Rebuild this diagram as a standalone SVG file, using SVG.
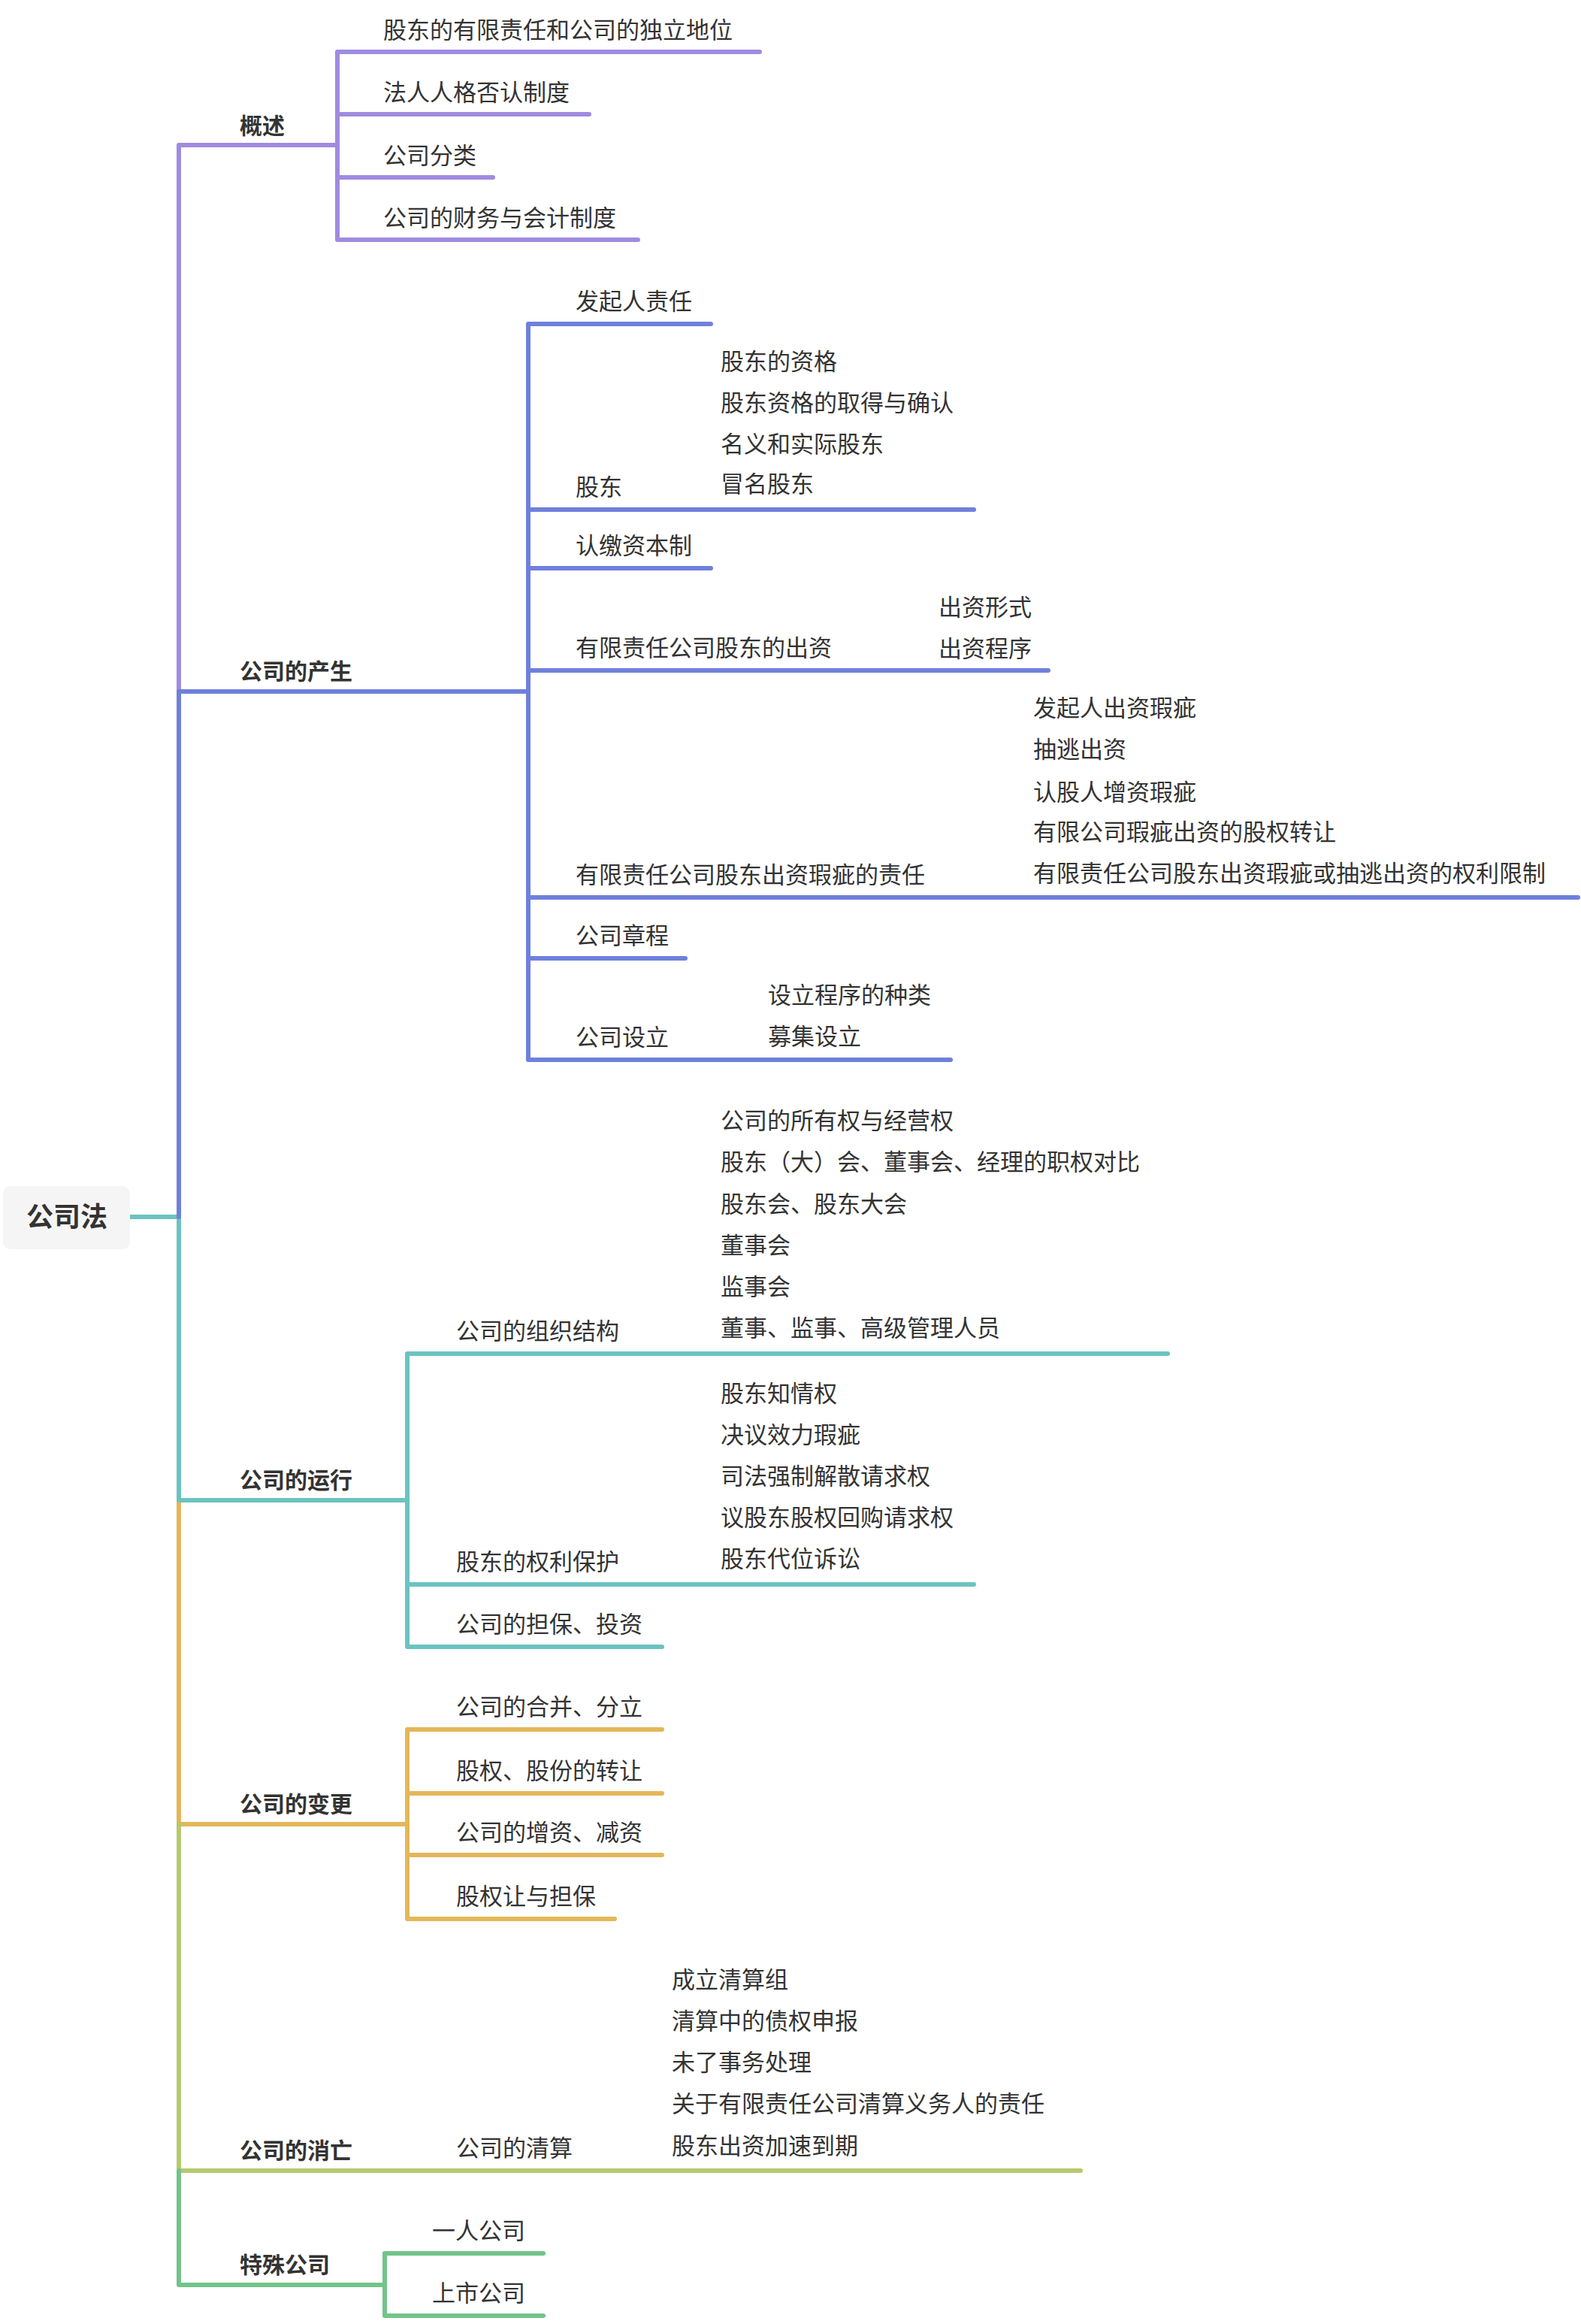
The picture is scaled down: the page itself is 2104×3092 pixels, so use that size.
<svg xmlns="http://www.w3.org/2000/svg" width="2104" height="3092" viewBox="0 0 2104 3092">
<style>
text{font-family:"Noto Sans CJK SC","Noto Sans",sans-serif;fill:#333;font-size:31px}
.b{font-weight:bold;font-size:30px}
.r{font-weight:bold;font-size:36px;text-anchor:middle}
path{fill:none;stroke-width:6;stroke-linecap:round;stroke-linejoin:round}
.p{stroke:#a08be0}.u{stroke:#6f80db}.t{stroke:#6cc3c0}.y{stroke:#e3b75a}.o{stroke:#b5c96f}.g{stroke:#72c48a}
</style>
<g id="connectors">
<path class="t" d="M173 1619H238V1996"/>
<path class="p" d="M449 193H238V920"/>
<path class="u" d="M703 920H238V1619"/>
<path class="y" d="M542 2427H238V1996"/>
<path class="o" d="M1438 2888H238V2427"/>
<path class="g" d="M512 3040H238V2888"/>
<path class="t" d="M542 1996H238"/>
<path class="p" d="M1011 69H449V319H849M449 152H784M449 236H656"/>
<path class="u" d="M946 431H703V1410H1265M703 678H1296M703 756H946M703 892H1395M703 1194H2100M703 1275H912"/>
<path class="t" d="M1554 1801H542V2191H881M542 2108H1296"/>
<path class="y" d="M881 2301H542V2553H818M542 2386H881M542 2468H881"/>
<path class="g" d="M723 2998H512V3081H723"/>
</g>
<g id="root"><rect x="4" y="1578" width="169" height="84" rx="10" fill="#f5f5f5"/><text class="r" x="89" y="1632">公司法</text></g>
<g id="n1"><text class="b" x="319" y="178">概述</text>
<text x="510" y="51">股东的有限责任和公司的独立地位</text>
<text x="510" y="134">法人人格否认制度</text>
<text x="510" y="218">公司分类</text>
<text x="510" y="301">公司的财务与会计制度</text></g>
<g id="n2"><text class="b" x="319" y="904">公司的产生</text>
<text x="766" y="412">发起人责任</text>
<text x="766" y="659">股东</text>
<text x="959" y="492">股东的资格</text>
<text x="959" y="547">股东资格的取得与确认</text>
<text x="959" y="602">名义和实际股东</text>
<text x="959" y="655">冒名股东</text>
<text x="766" y="737">认缴资本制</text>
<text x="766" y="873">有限责任公司股东的出资</text>
<text x="1249" y="819">出资形式</text>
<text x="1249" y="874">出资程序</text>
<text x="766" y="1175">有限责任公司股东出资瑕疵的责任</text>
<text x="1375" y="953">发起人出资瑕疵</text>
<text x="1375" y="1008">抽逃出资</text>
<text x="1375" y="1065">认股人增资瑕疵</text>
<text x="1375" y="1118">有限公司瑕疵出资的股权转让</text>
<text x="1375" y="1173">有限责任公司股东出资瑕疵或抽逃出资的权利限制</text>
<text x="766" y="1256">公司章程</text>
<text x="766" y="1391">公司设立</text>
<text x="1022" y="1335">设立程序的种类</text>
<text x="1022" y="1390">募集设立</text></g>
<g id="n3"><text class="b" x="319" y="1980">公司的运行</text>
<text x="607" y="1782">公司的组织结构</text>
<text x="959" y="1502">公司的所有权与经营权</text>
<text x="959" y="1557">股东（大）会、董事会、经理的职权对比</text>
<text x="959" y="1613">股东会、股东大会</text>
<text x="959" y="1668">董事会</text>
<text x="959" y="1723">监事会</text>
<text x="959" y="1778">董事、监事、高级管理人员</text>
<text x="607" y="2089">股东的权利保护</text>
<text x="959" y="1865">股东知情权</text>
<text x="959" y="1920">决议效力瑕疵</text>
<text x="959" y="1975">司法强制解散请求权</text>
<text x="959" y="2030">议股东股权回购请求权</text>
<text x="959" y="2085">股东代位诉讼</text>
<text x="607" y="2172">公司的担保、投资</text></g>
<g id="n4"><text class="b" x="319" y="2411">公司的变更</text>
<text x="607" y="2282">公司的合并、分立</text>
<text x="607" y="2367">股权、股份的转让</text>
<text x="607" y="2449">公司的增资、减资</text>
<text x="607" y="2534">股权让与担保</text></g>
<g id="n5"><text class="b" x="319" y="2872">公司的消亡</text>
<text x="607" y="2869">公司的清算</text>
<text x="894" y="2645">成立清算组</text>
<text x="894" y="2700">清算中的债权申报</text>
<text x="894" y="2755">未了事务处理</text>
<text x="894" y="2810">关于有限责任公司清算义务人的责任</text>
<text x="894" y="2866">股东出资加速到期</text></g>
<g id="n6"><text class="b" x="319" y="3024">特殊公司</text>
<text x="575" y="2979">一人公司</text>
<text x="575" y="3062">上市公司</text></g>
</svg>
